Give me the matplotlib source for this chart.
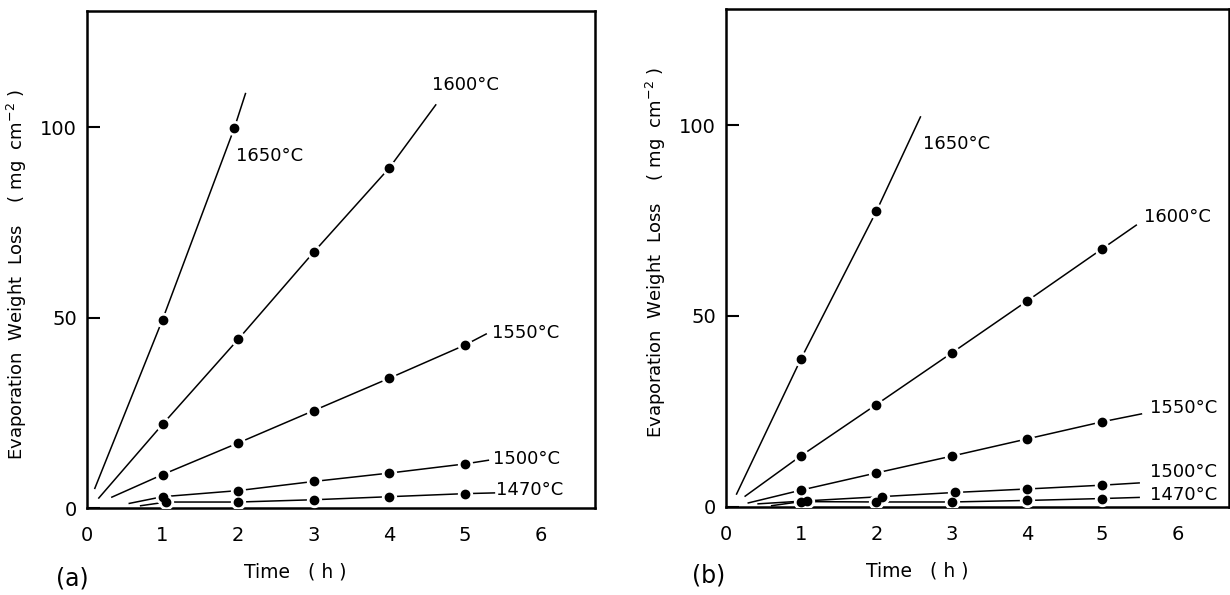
import matplotlib
matplotlib.use("Agg")
import matplotlib.pyplot as plt

temps = ["1650", "1600", "1550", "1500", "1470"]

# panel (a)
a_x = {
    "1650": [0.10, 1, 1.95, 2.10],
    "1600": [0.15, 1, 2, 3, 4, 4.62],
    "1550": [0.32, 1, 2, 3, 4, 5, 5.29],
    "1500": [0.55, 1, 2, 3, 4, 5, 5.32],
    "1470": [0.70, 1.05, 2, 3, 4, 5, 5.40],
}
a_y = {
    "1650": [5.0, 49.5, 99.8, 109],
    "1600": [2.5, 22.0, 44.3, 67.2, 89.3, 106],
    "1550": [2.8, 8.8, 17.1, 25.6, 34.1, 42.8, 45.8],
    "1500": [1.2, 3.0, 4.6, 7.0, 9.2, 11.6, 12.6],
    "1470": [0.6, 1.6, 1.6, 2.2, 3.0, 3.8, 4.0],
}
a_lab = {"1650": (1.97, 92.5), "1600": (4.56, 111), "1550": (5.36, 46),
         "1500": (5.37, 13), "1470": (5.41, 4.8)}

# panel (b)
b_x = {
    "1650": [0.14, 1, 2, 2.59],
    "1600": [0.25, 1, 2, 3, 4, 5, 5.46],
    "1550": [0.29, 1, 2, 3, 4, 5, 5.53],
    "1500": [0.42, 1.08, 2.07, 3.05, 4, 5, 5.50],
    "1470": [0.60, 1, 2, 3, 4, 5, 5.50],
}
b_y = {
    "1650": [3.2, 38.8, 77.4, 102.3],
    "1600": [2.7, 13.4, 26.8, 40.3, 53.9, 67.6, 73.9],
    "1550": [1.0, 4.4, 8.9, 13.3, 17.8, 22.3, 24.4],
    "1500": [0.8, 1.6, 2.7, 3.8, 4.7, 5.7, 6.3],
    "1470": [0.3, 1.4, 1.3, 1.3, 1.7, 2.2, 2.5],
}
b_lab = {"1650": (2.62, 95), "1600": (5.55, 76), "1550": (5.63, 25.9),
         "1500": (5.63, 9.2), "1470": (5.63, 3.2)}

plt.rcParams['font.family'] = ['DejaVu Sans']

fig = plt.figure(figsize=(12.3, 5.95), dpi=100)
ax_a = fig.add_axes([0.0707, 0.146, 0.413, 0.835])
ax_b = fig.add_axes([0.590, 0.148, 0.409, 0.837])


def draw_panel(ax, xs, ys, labs, xmax, ylab_y, xlab_x):
    for t in temps:
        x = xs[t]
        y = ys[t]
        ax.plot(x, y, color='black', lw=1.1, solid_capstyle='butt', zorder=2)
        # measured points only (drop the line ends)
        ax.plot(x[1:-1], y[1:-1], 'o', color='white', ms=10, zorder=3)
        ax.plot(x[1:-1], y[1:-1], 'o', color='black', ms=6, zorder=4)
        lx, ly = labs[t]
        ax.text(lx, ly, t + "°C", fontsize=13, ha='left', va='center')
    ax.set_xlim(0, xmax)
    ax.set_ylim(0, 130.4)
    ax.set_xticks([0, 1, 2, 3, 4, 5, 6])
    ax.set_yticks([0, 50, 100])
    ax.tick_params(axis='x', length=0, pad=13, labelsize=14)
    ax.tick_params(axis='y', direction='in', length=9, width=1.5, pad=7, labelsize=14)
    for s in ax.spines.values():
        s.set_linewidth(1.8)
    ax.set_ylabel("Evaporation  Weight  Loss    ( mg  cm$^{-2}$ )", fontsize=13)
    ax.yaxis.set_label_coords(-0.115, ylab_y)
    ax.set_xlabel("Time   ( h )", fontsize=13.5)
    ax.xaxis.set_label_coords(xlab_x, -0.11)


draw_panel(ax_a, a_x, a_y, a_lab, 6.72, 0.47, 0.41)
draw_panel(ax_b, b_x, b_y, b_lab, 6.68, 0.51, 0.38)

fig.text(0.059, 0.008, "(a)", fontsize=17, ha='center', va='bottom')
fig.text(0.576, 0.012, "(b)", fontsize=17, ha='center', va='bottom')

fig.savefig("out.png", dpi=100)
